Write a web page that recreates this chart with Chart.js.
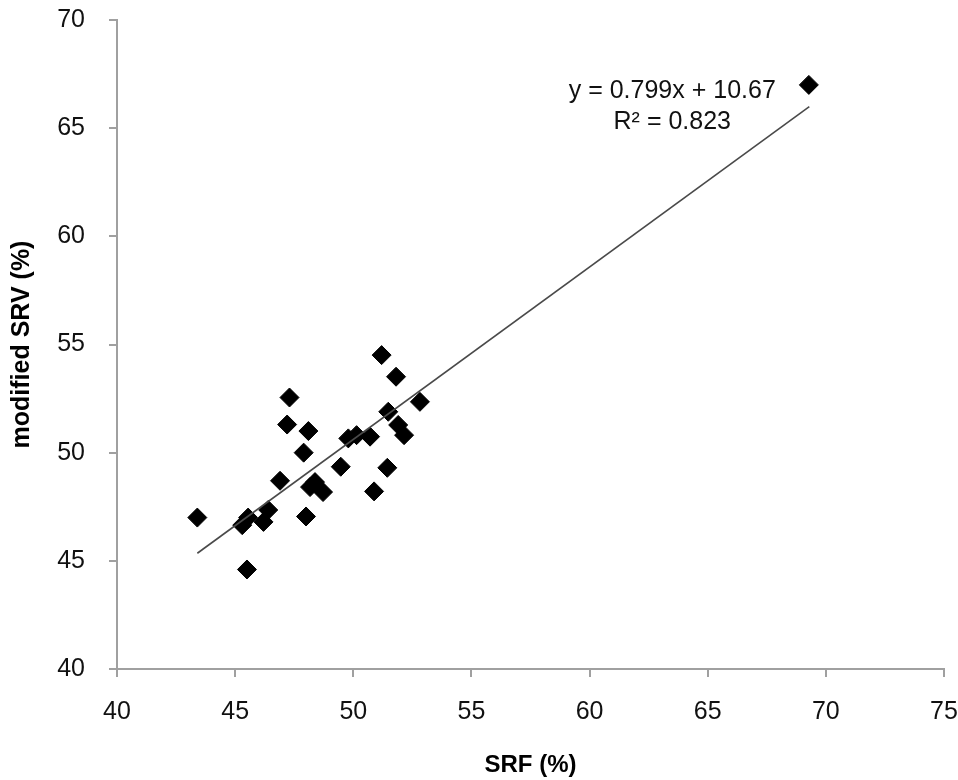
<!DOCTYPE html>
<html>
<head>
<meta charset="utf-8">
<script src="https://cdn.jsdelivr.net/npm/chart.js@4.4.1/dist/chart.umd.min.js"></script>
<style>
  html, body { margin: 0; padding: 0; background: #fff; }
  #wrap { width: 958px; height: 780px; }
</style>
</head>
<body>
<div id="wrap"><canvas id="chart"></canvas></div>
<script>
// SRF (%) vs modified SRV (%)
var srf = [43.4, 45.5, 45.3, 45.55, 46.2, 46.4, 46.9, 48.0, 47.9, 47.2,
           47.3, 48.1, 48.17, 48.38, 48.72, 49.47, 49.79, 50.14, 50.71, 50.88,
           51.44, 51.2, 51.81, 51.48, 51.9, 52.15, 52.82, 69.28];
var srv = [47.0, 44.6, 46.65, 47.0, 46.8, 47.35, 48.7, 47.05, 50.0, 51.3,
           52.55, 51.0, 48.41, 48.64, 48.18, 49.35, 50.66, 50.81, 50.74, 48.21,
           49.3, 54.51, 53.51, 51.89, 51.28, 50.81, 52.35, 67.0];

// linear trend line end points (as drawn)
var trendX = [43.4, 69.3];
var trendY = [45.35, 66.0];

var eqLines = ["y = 0.799x + 10.67", "R\u00b2 = 0.823"];

var xTicks = [40, 45, 50, 55, 60, 65, 70, 75];
var yTicks = [40, 45, 50, 55, 60, 65, 70];

var axisGrey = "#a0a0a0";
var fontName = "'Liberation Sans', Arial, sans-serif";

var points = srf.map(function(v, i){ return {x: v, y: srv[i]}; });
var trend = trendX.map(function(v, i){ return {x: v, y: trendY[i]}; });

// draws the equation label next to the trend line
var eqLabel = {
  id: "eqLabel",
  afterDatasetsDraw: function(chart){
    var ctx = chart.ctx;
    var xs = chart.scales.x, ys = chart.scales.y;
    var cx = xs.getPixelForValue(63.5);
    ctx.save();
    ctx.fillStyle = "#111";
    ctx.font = "25px " + fontName;
    ctx.textAlign = "center";
    ctx.textBaseline = "middle";
    ctx.fillText(eqLines[0], cx, ys.getPixelForValue(66.7));
    ctx.fillText(eqLines[1], cx, ys.getPixelForValue(65.3));
    ctx.restore();
  }
};

new Chart(document.getElementById("chart"), {
  type: "scatter",
  data: {
    datasets: [
      {
        label: "trend",
        data: trend,
        showLine: true,
        borderColor: "#4a4a4a",
        borderWidth: 1.6,
        pointRadius: 0,
        fill: false
      },
      {
        label: "data",
        data: points,
        pointStyle: "rectRot",
        pointRadius: 9.5,
        pointBackgroundColor: "#000",
        pointBorderColor: "#000",
        pointBorderWidth: 1
      }
    ]
  },
  options: {
    responsive: true,
    maintainAspectRatio: false,
    animation: false,
    layout: { padding: { top: 20, right: 14, left: 0, bottom: 0 } },
    plugins: {
      legend: { display: false },
      tooltip: { enabled: false }
    },
    scales: {
      x: {
        type: "linear",
        min: 40, max: 75,
        afterBuildTicks: function(s){ s.ticks = xTicks.map(function(v){ return {value: v}; }); },
        afterFit: function(s){ s.height = 111; s.paddingRight = 0; s.paddingLeft = 0; },
        grid: { drawOnChartArea: false, color: axisGrey, tickLength: 8, lineWidth: 2 },
        border: { color: axisGrey, width: 2 },
        ticks: { color: "#111", padding: 20, font: { size: 25, family: fontName } },
        title: {
          display: true, text: "SRF (%)", color: "#000",
          font: { size: 24, weight: "bold", family: fontName },
          padding: { top: 0, bottom: 0 }
        }
      },
      y: {
        type: "linear",
        min: 40, max: 70,
        afterBuildTicks: function(s){ s.ticks = yTicks.map(function(v){ return {value: v}; }); },
        afterFit: function(s){ s.width = 117; s.paddingTop = 0; s.paddingBottom = 0; },
        grid: { drawOnChartArea: false, color: axisGrey, tickLength: 8, lineWidth: 2 },
        border: { color: axisGrey, width: 2 },
        ticks: { color: "#111", padding: 24, font: { size: 25, family: fontName } },
        title: {
          display: true, text: "modified SRV (%)", color: "#000",
          font: { size: 25, weight: "bold", family: fontName },
          padding: { top: 7, bottom: 0 }
        }
      }
    }
  },
  plugins: [eqLabel]
});
</script>
</body>
</html>
